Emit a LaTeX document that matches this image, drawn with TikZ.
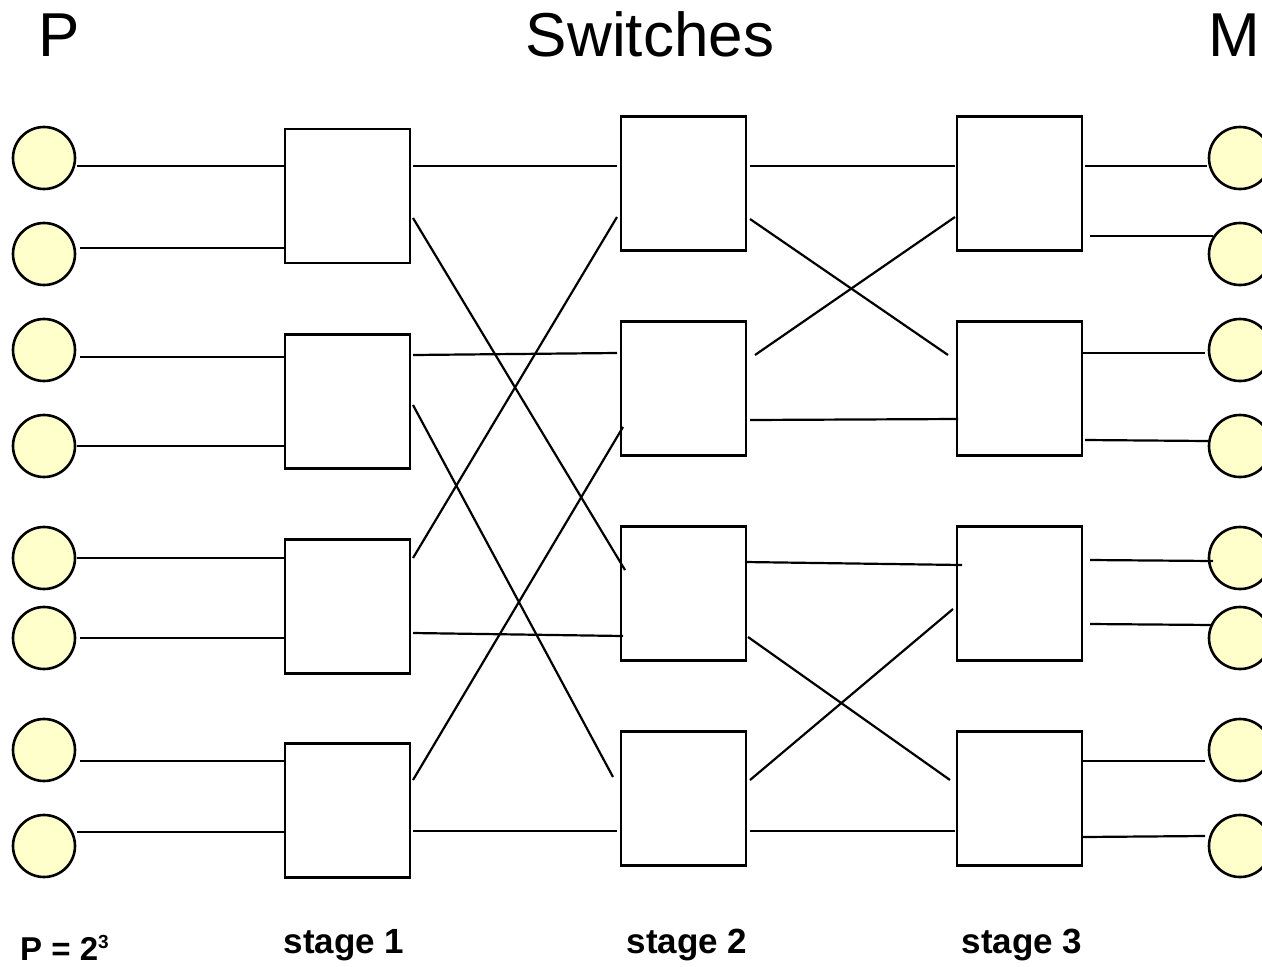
\documentclass[tikz,border=0pt]{standalone}
\usepackage{fontspec}
\setmainfont{Liberation Sans}
\usetikzlibrary{calc}
\definecolor{pfill}{RGB}{255,255,204}
\tikzset{
  proc/.style={circle, draw=black, line width=2.6pt, fill=pfill, minimum size=62pt, inner sep=0pt, outer sep=0pt},
  swbox/.style={rectangle, draw=black, line width=2.8pt, minimum width=125pt, minimum height=134pt, inner sep=0pt, outer sep=0pt},
  wire/.style={line width=2.2pt, draw=black},
  title/.style={font=\fontsize{62}{70}\selectfont, inner sep=0pt, anchor=base},
  stagelbl/.style={font=\bfseries\fontsize{35}{40}\selectfont, inner sep=0pt, anchor=base}
}
\begin{document}
\begin{tikzpicture}[x=1pt, y=-1pt]
\useasboundingbox (0,0) rectangle (1262,967);
% titles
\node[title, anchor=base west] (tP) at (38,56) {P};
\node[title] (tS) at (650,56) {Switches};
\node[title, anchor=base west] (tM) at (1208,56) {M};
% processors
\foreach \i/\y in {1/158,2/254,3/350,4/446,5/558,6/638,7/750,8/846}{
  \node[proc] (p\i) at (44,\y) {};
  \node[proc] (m\i) at (1240,\y) {};
}
% switch boxes
\foreach \j/\y in {1/196,2/401.5,3/606.5,4/810.5}{
  \node[swbox] (a\j) at (347.5,\y) {};
}
\foreach \j/\y in {1/183.5,2/388.5,3/593.5,4/798.5}{
  \node[swbox] (b\j) at (683.5,\y) {};
  \node[swbox] (c\j) at (1019.5,\y) {};
}
% processors -> stage 1
\draw[wire] ([shift={(33,8)}]p1.center) -- ([shift={(0,-30)}]a1.west);
\draw[wire] ([shift={(36,-6)}]p2.center) -- ([shift={(0,52)}]a1.west);
\draw[wire] ([shift={(36,7)}]p3.center) -- ([shift={(0,-44.5)}]a2.west);
\draw[wire] ([shift={(33,0)}]p4.center) -- ([shift={(0,44.5)}]a2.west);
\draw[wire] ([shift={(33,0)}]p5.center) -- ([shift={(0,-48.5)}]a3.west);
\draw[wire] ([shift={(36,0)}]p6.center) -- ([shift={(0,31.5)}]a3.west);
\draw[wire] ([shift={(36,11)}]p7.center) -- ([shift={(0,-49.5)}]a4.west);
\draw[wire] ([shift={(33,-14)}]p8.center) -- ([shift={(0,21.5)}]a4.west);
% stage 1 -> stage 2
\draw[wire] ([shift={(3,-30)}]a1.east) -- ([shift={(-4,-17.5)}]b1.west);
\draw[wire] ([shift={(3,22)}]a1.east) -- ([shift={(4,-23.5)}]b3.west);
\draw[wire] ([shift={(3,-46.5)}]a2.east) -- ([shift={(-4,-35.5)}]b2.west);
\draw[wire] ([shift={(3,3.5)}]a2.east) -- ([shift={(-8,-21.5)}]b4.west);
\draw[wire] ([shift={(3,-48.5)}]a3.east) -- ([shift={(-4,33.5)}]b1.west);
\draw[wire] ([shift={(3,26.5)}]a3.east) -- ([shift={(2,42.5)}]b3.west);
\draw[wire] ([shift={(3,-30.5)}]a4.east) -- ([shift={(2,38.5)}]b2.west);
\draw[wire] ([shift={(3,20.5)}]a4.east) -- ([shift={(-4,32.5)}]b4.west);
% stage 2 -> stage 3
\draw[wire] ([shift={(4,-17.5)}]b1.east) -- ([shift={(-2,-17.5)}]c1.west);
\draw[wire] ([shift={(4,35.5)}]b1.east) -- ([shift={(-9,-33.5)}]c2.west);
\draw[wire] ([shift={(9,-33.5)}]b2.east) -- ([shift={(-2,33.5)}]c1.west);
\draw[wire] ([shift={(4,31.5)}]b2.east) -- ([shift={(1,30.5)}]c2.west);
\draw[wire] ([shift={(-1,-31.5)}]b3.east) -- ([shift={(5,-28.5)}]c3.west);
\draw[wire] ([shift={(2,43.5)}]b3.east) -- ([shift={(-7,-18.5)}]c4.west);
\draw[wire] ([shift={(4,-18.5)}]b4.east) -- ([shift={(-4,15.5)}]c3.west);
\draw[wire] ([shift={(4,32.5)}]b4.east) -- ([shift={(-2,32.5)}]c4.west);
% stage 3 -> memories
\draw[wire] ([shift={(3,-17.5)}]c1.east) -- ([shift={(-33,8)}]m1.center);
\draw[wire] ([shift={(8,52.5)}]c1.east) -- ([shift={(-27,-18)}]m2.center);
\draw[wire] ([shift={(1,-35.5)}]c2.east) -- ([shift={(-35,3)}]m3.center);
\draw[wire] ([shift={(3,51.5)}]c2.east) -- ([shift={(-32,-5)}]m4.center);
\draw[wire] ([shift={(8,-33.5)}]c3.east) -- ([shift={(-27,3)}]m5.center);
\draw[wire] ([shift={(8,30.5)}]c3.east) -- ([shift={(-27,-13)}]m6.center);
\draw[wire] ([shift={(1,-37.5)}]c4.east) -- ([shift={(-35,11)}]m7.center);
\draw[wire] ([shift={(1,38.5)}]c4.east) -- ([shift={(-35,-10)}]m8.center);
% bottom labels
\node[stagelbl, anchor=base west] (lp) at (20,960) {\fontsize{33}{38}\selectfont P = 2\raisebox{0.36em}{\fontsize{19}{22}\selectfont 3}};
\node[stagelbl] (l1) at (344,953) {stage 1};
\node[stagelbl] (l2) at (687,953) {stage 2};
\node[stagelbl] (l3) at (1022,953) {stage 3};
\end{tikzpicture}
\end{document}
